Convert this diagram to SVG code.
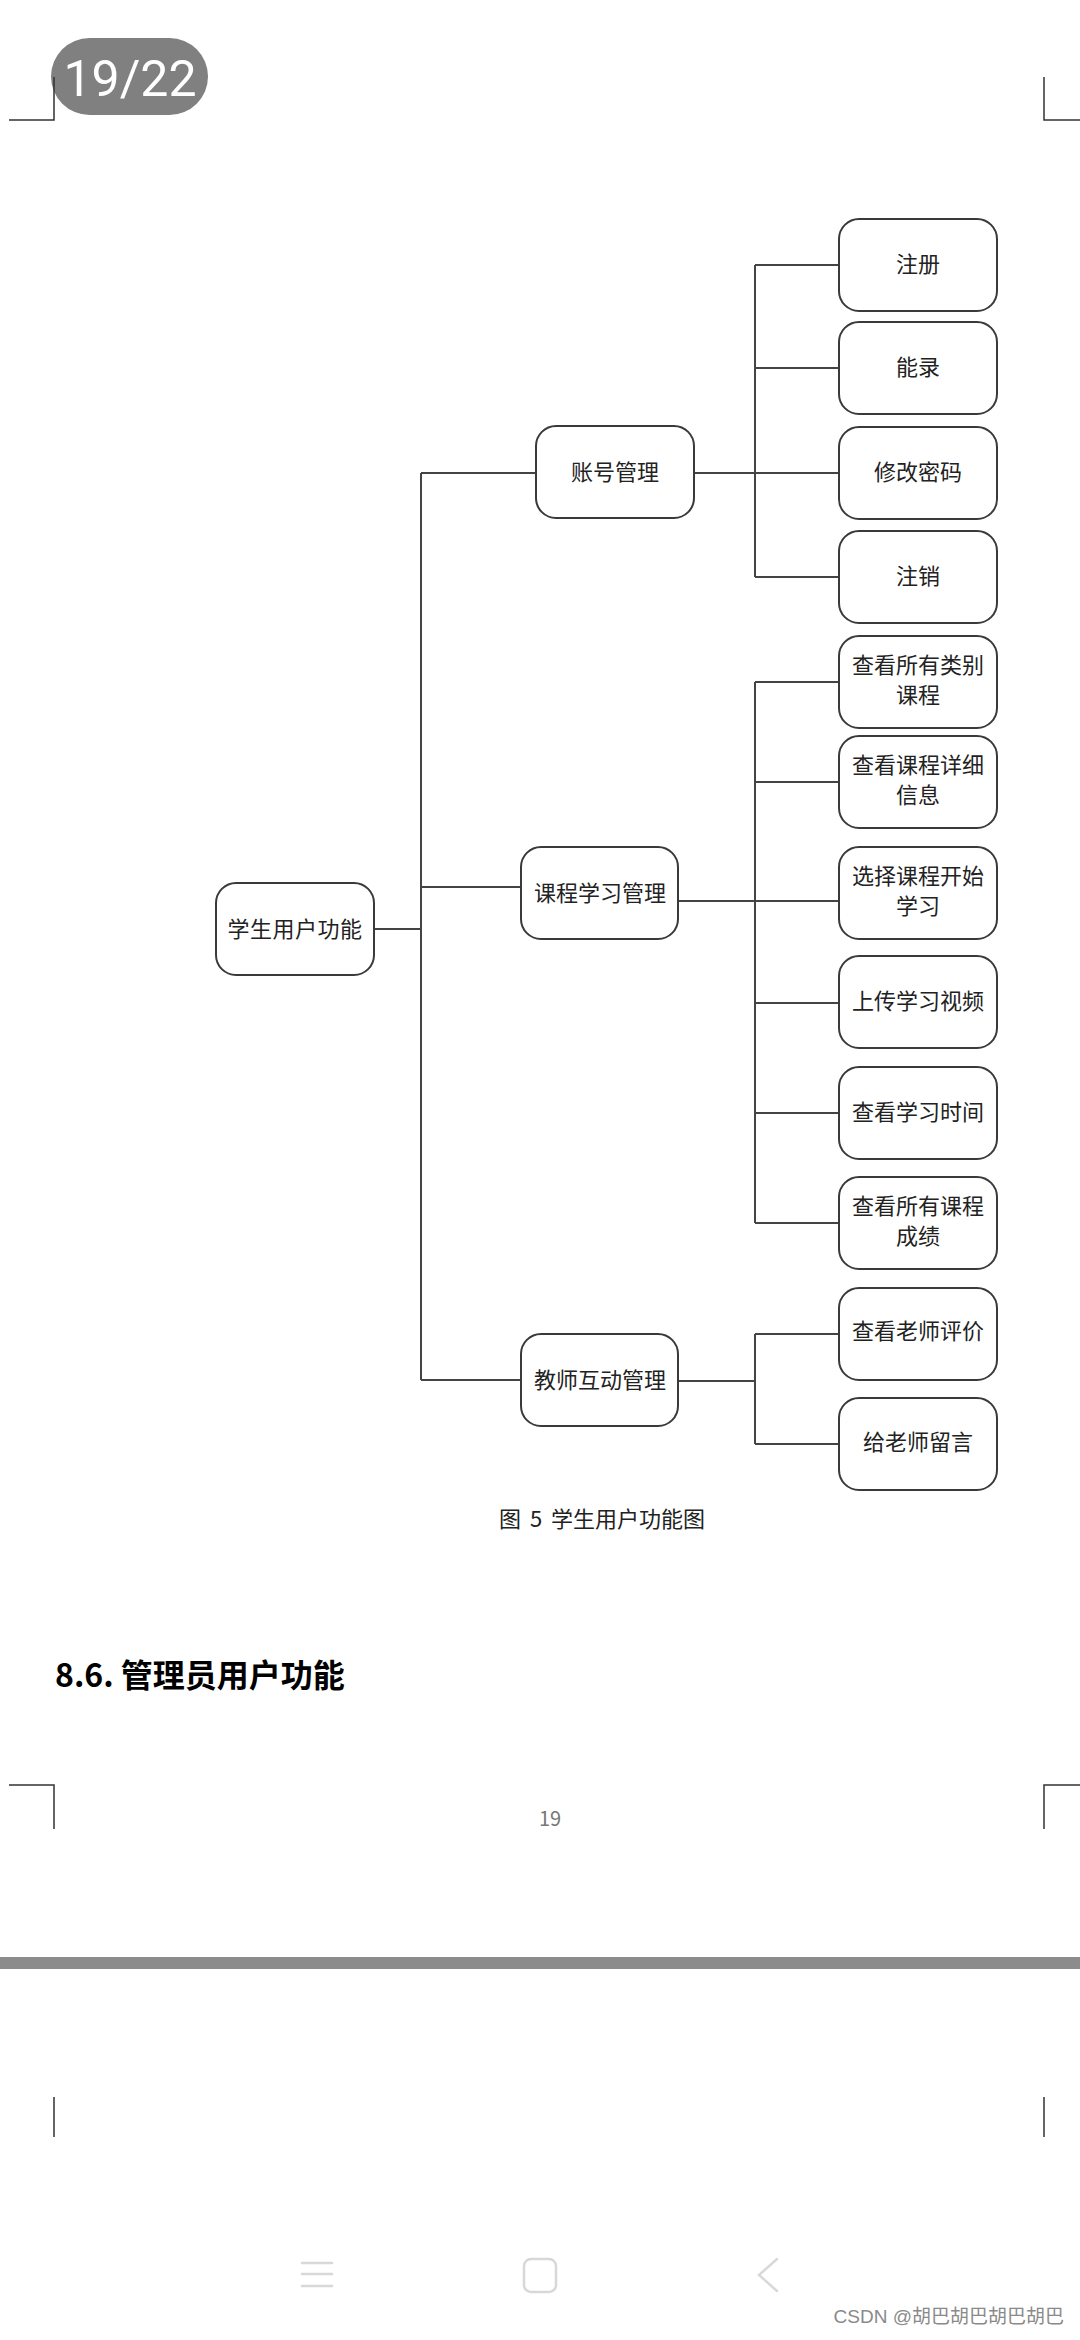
<svg xmlns="http://www.w3.org/2000/svg" width="1080" height="2340" viewBox="0 0 1080 2340">
<style>
.box{fill:#fff;stroke:#3a3a3a;stroke-width:2}
.t{font-family:"Noto Sans CJK SC","Noto Sans",sans-serif;font-size:22px;fill:#222;text-anchor:middle;dominant-baseline:central}
.ln{fill:none;stroke:#444;stroke-width:2}
.mk{fill:none;stroke:#333;stroke-width:1.5}
.nav{fill:none;stroke:#d8d8d8;stroke-width:2.5;stroke-linecap:round}
</style>
<rect width="1080" height="2340" fill="#fff"/>
<g id="badge">
<rect x="51" y="38" width="157" height="77" rx="38.5" fill="#808080"/>
<text x="130" y="96" font-family="Roboto,'Noto Sans',sans-serif" font-size="50" fill="#fff" text-anchor="middle">19/22</text>
</g>
<g id="marks">
<path class="mk" d="M9 120H54V77M1080 120H1044V77M9 1785H54V1829M1080 1785H1044V1829M54 2097V2137M1044 2097V2137"/>
</g>
<g id="connectors">
<path class="ln" d="M374 929H421M421 473V1380M421 473H536M421 887H521M421 1380H521"/>
<path class="ln" d="M694 473H755M755 265V577M755 265H839M755 368H839M755 473H839M755 577H839"/>
<path class="ln" d="M678 901H755M755 682V1223M755 682H839M755 782H839M755 901H839M755 1003H839M755 1113H839M755 1223H839"/>
<path class="ln" d="M678 1381H755M755 1334V1444M755 1334H839M755 1444H839"/>
</g>
<g id="root"><rect class="box" x="216" y="883" width="158" height="92" rx="20"/><text class="t" x="295" y="927" letter-spacing="0.5">学生用户功能</text></g>
<g id="account"><rect class="box" x="536" y="426" width="158" height="92" rx="20"/><text class="t" x="615" y="470">账号管理</text></g>
<g id="course"><rect class="box" x="521" y="847" width="157" height="92" rx="20"/><text class="t" x="600" y="891">课程学习管理</text></g>
<g id="teacher"><rect class="box" x="521" y="1334" width="157" height="92" rx="20"/><text class="t" x="600" y="1378">教师互动管理</text></g>
<g id="leaf1"><rect class="box" x="839" y="219" width="158" height="92" rx="20"/><text class="t" x="918" y="262">注册</text></g>
<g id="leaf2"><rect class="box" x="839" y="322" width="158" height="92" rx="20"/><text class="t" x="918" y="365">能录</text></g>
<g id="leaf3"><rect class="box" x="839" y="427" width="158" height="92" rx="20"/><text class="t" x="918" y="470">修改密码</text></g>
<g id="leaf4"><rect class="box" x="839" y="531" width="158" height="92" rx="20"/><text class="t" x="918" y="574">注销</text></g>
<g id="leaf5"><rect class="box" x="839" y="636" width="158" height="92" rx="20"/><text class="t" x="918" y="663">查看所有类别</text><text class="t" x="918" y="693">课程</text></g>
<g id="leaf6"><rect class="box" x="839" y="736" width="158" height="92" rx="20"/><text class="t" x="918" y="763">查看课程详细</text><text class="t" x="918" y="793">信息</text></g>
<g id="leaf7"><rect class="box" x="839" y="847" width="158" height="92" rx="20"/><text class="t" x="918" y="874">选择课程开始</text><text class="t" x="918" y="904">学习</text></g>
<g id="leaf8"><rect class="box" x="839" y="956" width="158" height="92" rx="20"/><text class="t" x="918" y="999">上传学习视频</text></g>
<g id="leaf9"><rect class="box" x="839" y="1067" width="158" height="92" rx="20"/><text class="t" x="918" y="1110">查看学习时间</text></g>
<g id="leaf10"><rect class="box" x="839" y="1177" width="158" height="92" rx="20"/><text class="t" x="918" y="1204">查看所有课程</text><text class="t" x="918" y="1234">成绩</text></g>
<g id="leaf11"><rect class="box" x="839" y="1288" width="158" height="92" rx="20"/><text class="t" x="918" y="1329">查看老师评价</text></g>
<g id="leaf12"><rect class="box" x="839" y="1398" width="158" height="92" rx="20"/><text class="t" x="918" y="1440">给老师留言</text></g>
<text x="602" y="1527" font-family="'Noto Sans CJK SC',sans-serif" font-size="22" fill="#222" text-anchor="middle" word-spacing="4">图 5 学生用户功能图</text>
<text x="55" y="1687" font-family="'Noto Sans CJK SC',sans-serif" font-size="32" font-weight="bold" fill="#000">8.6. 管理员用户功能</text>
<text x="550" y="1826" font-family="'Noto Sans CJK SC',sans-serif" font-size="20" fill="#777" text-anchor="middle">19</text>
<rect x="0" y="1957" width="1080" height="12" fill="#8c8c8c"/>
<g id="navbar">
<path class="nav" d="M302 2263H332M302 2274H332M302 2286H332"/>
<rect x="524" y="2259" width="32" height="33" rx="7" fill="none" stroke="#d8d8d8" stroke-width="2.5"/>
<path class="nav" d="M777 2259L759 2275L777 2291"/>
</g>
<text x="1064" y="2323" font-family="'Liberation Sans','Noto Sans CJK SC',sans-serif" font-size="19" fill="#8a8a8a" text-anchor="end">CSDN @胡巴胡巴胡巴胡巴</text>
</svg>
